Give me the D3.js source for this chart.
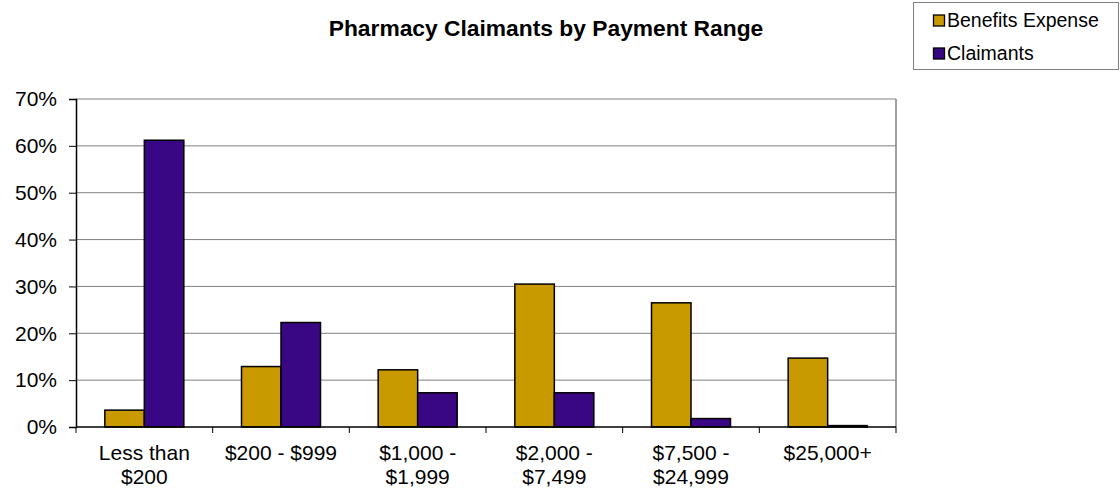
<!DOCTYPE html>
<html lang="en">
<head>
    <meta charset="UTF-8">
    <title>Pharmacy Claimants by Payment Range</title>
    <style>
        body { margin: 0; background: #fff; }
        text { font-family: "Liberation Sans", Arial, sans-serif; }
    </style>
    <script src="https://d3js.org/d3.v7.min.js"></script>
</head>
<body>
<script>
    // data
    var categories = [["Less than", "$200"], ["$200 - $999"], ["$1,000 -", "$1,999"], ["$2,000 -", "$7,499"], ["$7,500 -", "$24,999"], ["$25,000+"]];
    var seriesNames = ["Benefits Expense", "Claimants"];
    var benefits = [0.036, 0.129, 0.122, 0.305, 0.265, 0.147];
    var claimants = [0.612, 0.223, 0.073, 0.073, 0.018, 0.003];
    var yTicks = [0, 0.1, 0.2, 0.3, 0.4, 0.5, 0.6, 0.7];
    var colors = ["#C99A00", "#390783"];

    var width = 1120, height = 489;
    var pLeft = 76, pRight = 896, pTop = 99, pBottom = 427;

    var svg = d3.select("body").append("svg")
        .attr("width", width)
        .attr("height", height);

    var x = d3.scaleBand().domain(d3.range(categories.length)).range([pLeft, pRight]);
    var groupW = x.bandwidth() * 0.578;
    var x1 = d3.scaleBand().domain([0, 1]).range([0, groupW]);
    var y = d3.scaleLinear().domain([0, 0.7]).range([pBottom, pTop]);

    // gridlines
    svg.append("g").selectAll("line").data(yTicks.slice(1)).join("line")
        .attr("x1", pLeft).attr("x2", pRight)
        .attr("y1", d => y(d)).attr("y2", d => y(d))
        .attr("stroke", "#808080").attr("stroke-width", 1);

    // plot frame right side
    svg.append("line").attr("x1", pRight).attr("x2", pRight).attr("y1", pTop).attr("y2", pBottom)
        .attr("stroke", "#808080").attr("stroke-width", 1.5);

    // bars
    var rows = categories.map((c, i) => [benefits[i], claimants[i]]);
    var groups = svg.append("g").selectAll("g").data(rows).join("g")
        .attr("transform", (d, i) => "translate(" + (x(i) + (x.bandwidth() - groupW) / 2) + ",0)");
    groups.selectAll("rect").data(d => d).join("rect")
        .attr("x", (d, j) => x1(j))
        .attr("y", d => y(d))
        .attr("width", x1.bandwidth())
        .attr("height", d => pBottom - y(d))
        .attr("fill", (d, j) => colors[j])
        .attr("stroke", "#000").attr("stroke-width", 1.5);

    // y axis
    var yAxis = svg.append("g").attr("transform", "translate(" + pLeft + ",0)")
        .call(d3.axisLeft(y).tickValues(yTicks).tickFormat(d3.format(".0%")).tickSize(7).tickPadding(12));
    yAxis.select(".domain").attr("stroke", "#000").attr("stroke-width", 1.5);
    yAxis.selectAll(".tick line").attr("stroke", "#000");
    yAxis.selectAll("text").attr("font-size", 21).attr("fill", "#000")
        .style("font-family", "'Liberation Sans', Arial, sans-serif");

    // x axis
    var xAxis = svg.append("g").attr("transform", "translate(0," + pBottom + ")");
    xAxis.append("line").attr("x1", pLeft).attr("x2", pRight).attr("stroke", "#000").attr("stroke-width", 1.5);
    xAxis.selectAll(".tk").data(d3.range(categories.length + 1)).join("line")
        .attr("x1", i => pLeft + i * x.step()).attr("x2", i => pLeft + i * x.step())
        .attr("y1", 0).attr("y2", 6).attr("stroke", "#000");
    var labels = xAxis.selectAll(".lbl").data(categories).join("text")
        .attr("text-anchor", "middle")
        .attr("font-size", 21).attr("fill", "#000")
        .attr("x", (d, i) => x(i) + x.bandwidth() / 2)
        .attr("y", 33);
    labels.selectAll("tspan").data(d => d).join("tspan")
        .attr("x", function () { return this.parentNode.getAttribute("x"); })
        .attr("dy", (d, k) => k === 0 ? 0 : 24)
        .text(d => d);

    // title
    svg.append("text").attr("x", 546).attr("y", 36)
        .attr("text-anchor", "middle").attr("font-size", 22.8).attr("font-weight", "bold")
        .text("Pharmacy Claimants by Payment Range");

    // legend
    var lg = svg.append("g");
    lg.append("rect").attr("x", 913.5).attr("y", 2.5).attr("width", 205).attr("height", 67)
        .attr("fill", "#fff").attr("stroke", "#808080").attr("stroke-width", 1);
    seriesNames.forEach(function (name, i) {
        var base = 27 + i * 33;
        lg.append("rect").attr("x", 933.5).attr("y", base - 12).attr("width", 11).attr("height", 11)
            .attr("fill", colors[i]).attr("stroke", "#000").attr("stroke-width", 1.3);
        lg.append("text").attr("x", 947).attr("y", base).attr("font-size", 19.5).text(name);
    });
</script>
</body>
</html>
